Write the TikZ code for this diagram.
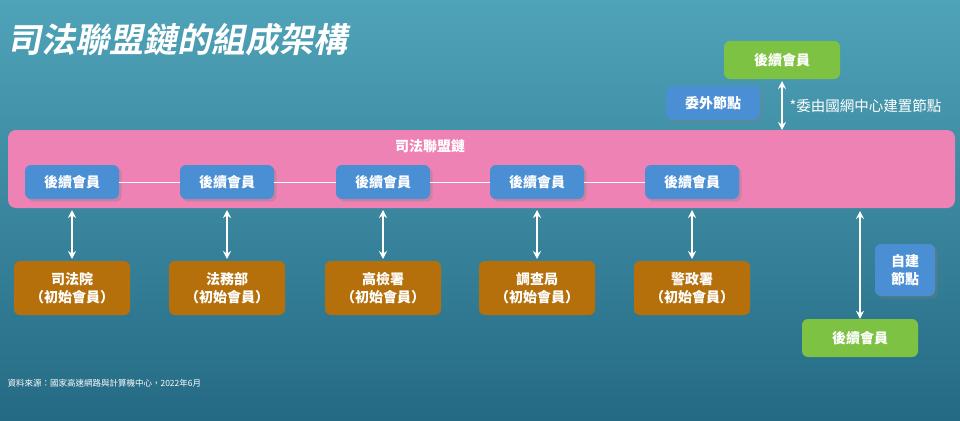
\documentclass[tikz,border=0pt]{standalone}
\usepackage{fontspec}
\setmainfont{Noto Sans CJK TC}
\newfontfamily\titlefont[FakeSlant=0.2]{Noto Sans CJK TC Bold}
\usetikzlibrary{positioning,arrows.meta,shadows}
\definecolor{bgtop}{HTML}{4FA3B8}
\definecolor{bgbot}{HTML}{256A84}
\definecolor{chainpink}{HTML}{EE82B4}
\definecolor{memblue}{HTML}{4A8ED3}
\definecolor{orgbrown}{HTML}{B5700C}
\definecolor{newgreen}{HTML}{7DC242}
\tikzset{
  lbl/.style={font=\bfseries\fontsize{14}{18}\selectfont},
  member/.style={lbl, rounded corners=6pt, fill=memblue, text=white,
    minimum width=94pt, minimum height=34pt, drop shadow={opacity=0.3}},
  org/.style={lbl, rounded corners=6pt, fill=orgbrown, text=white,
    minimum width=116pt, minimum height=54pt, align=center},
  newmem/.style={lbl, rounded corners=6pt, fill=newgreen, text=white,
    minimum width=116pt, minimum height=38pt},
  link/.style={white, line width=1.3pt, {Stealth[length=8pt,width=8pt]}-{Stealth[length=8pt,width=8pt]}}
}
\begin{document}
\begin{tikzpicture}[x=1pt,y=-1pt]
    \shade[top color=bgtop, bottom color=bgbot] (0,0) rectangle (960,420);
    \useasboundingbox (0,0) rectangle (960,420);

    % title
    \node[anchor=west, text=white, font=\titlefont\fontsize{34}{36}\selectfont] (title) at (4,40) {司法聯盟鏈的組成架構};

    % chain band
    \fill[chainpink, rounded corners=8pt] (8,130) rectangle (955,208);
    \node[lbl, text=white] (chain) at (430,146) {司法聯盟鏈};

    % members and organisations
    \foreach \i/\x/\name in {1/72/司法院, 2/227/法務部, 3/383/高檢署, 4/537/調查局, 5/692/警政署} {
      \node[member] (m\i) at (\x,182) {後續會員};
      \node[org] (o\i) at (\x,288) {\name\\（初始會員）};
      \coordinate (t\i) at (\x,210);
      \coordinate (b\i) at (\x,259);
      \draw[link] (t\i) -- (b\i);
    }
    \foreach \a/\b in {1/2, 2/3, 3/4, 4/5}
      \draw[white, line width=0.8pt] (m\a) -- (m\b);

    % outsourced node
    \node[newmem] (g1) at (782,60) {後續會員};
    \node[member] (out) at (713,103) {委外節點};
    \coordinate (ga) at (782,81);
    \coordinate (gb) at (782,130);
    \draw[link] (ga) -- (gb);
    \node[anchor=west, text=white, font=\fontsize{14.5}{16}\selectfont] (note) at (786,106) {*委由國網中心建置節點};

    % self-built node
    \node[newmem] (g2) at (860,338) {後續會員};
    \node[member, minimum width=60pt, minimum height=52pt, align=center] (self) at (905,270) {自建\\節點};
    \coordinate (sa) at (860,211);
    \draw[link] (sa) -- (g2.north);

    % source
    \node[anchor=west, text=white, font=\fontsize{8.5}{9}\selectfont] (src) at (4,383) {資料來源：國家高速網路與計算機中心，2022年6月};
\end{tikzpicture}
\end{document}
